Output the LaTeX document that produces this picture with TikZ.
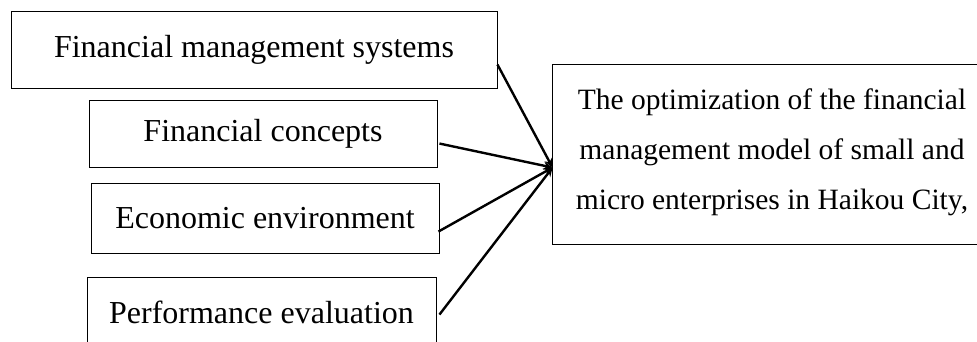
\documentclass[tikz,border=0pt]{standalone}
\usepackage{fontspec}
\setmainfont{Liberation Serif}
\usetikzlibrary{arrows.meta,calc}
\begin{document}
\begin{tikzpicture}[x=1pt,y=-1pt,
  box/.style={draw, line width=0.9pt, rectangle, inner sep=0pt, font=\fontsize{32}{38}\selectfont},
  conn/.style={line width=2.4pt, -{Stealth[length=9pt,width=8pt]}}]
\useasboundingbox (0,0) rectangle (977,342);
\node[box, minimum width=486pt, minimum height=77pt] (b1) at (254,49.5) {Financial management systems};
\node[box, minimum width=348pt, minimum height=67pt] (b2) at (263,133.5) {Financial concepts};
\node[box, minimum width=348pt, minimum height=70pt] (b3) at (265,218) {Economic environment};
\node[box, minimum width=349pt, minimum height=70pt] (b4) at (261.5,312) {Performance evaluation};
\node[box, minimum width=480pt, minimum height=180pt] (t) at (792,154) {};
\node[align=center, inner sep=0pt, font=\fontsize{29.5}{50}\selectfont] (tt) at (772,152) {The optimization of the financial\\management model of small and\\micro enterprises in Haikou City,};
\coordinate (tip) at ($(t.north west)+(1,104)$);
\draw[conn] ($(b1.north east)+(0,54)$) -- (tip);
\draw[conn] ($(b2.north east)+(2,44)$) -- (tip);
\draw[conn] ($(b3.north east)+(-1,49)$) -- (tip);
\draw[conn] ($(b4.north east)+(3,38)$) -- (tip);
\end{tikzpicture}
\end{document}
